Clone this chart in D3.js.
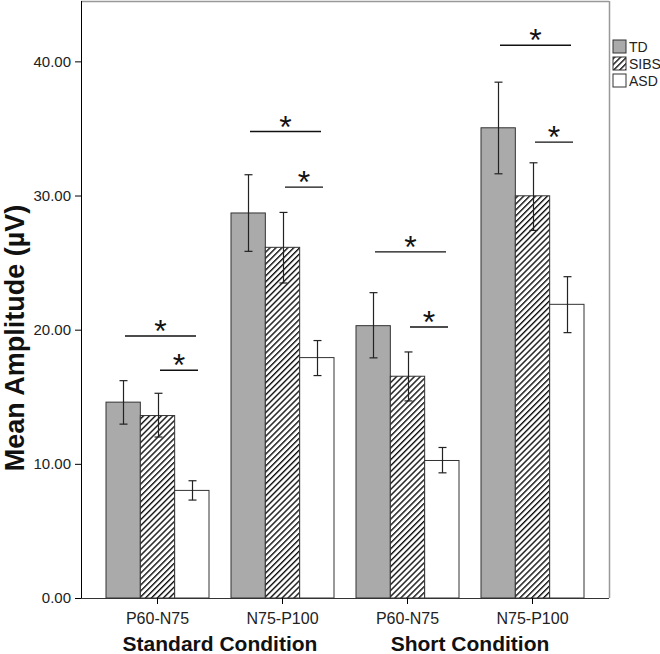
<!DOCTYPE html>
<html><head><meta charset="utf-8">
<script src="https://cdn.jsdelivr.net/npm/d3@7"></script>
<style>body{margin:0;background:#fff}svg{display:block}text{font-family:"Liberation Sans",Arial,sans-serif}</style>
</head><body><svg id="c" width="660" height="654"></svg>
<script>
const components = ["P60-N75","N75-P100","P60-N75","N75-P100"];
const conditions = ["Standard Condition","Short Condition"];
const series = ["TD","SIBS","ASD"];
const tdMean = [14.6, 28.7, 20.3, 35.05];
const tdHi   = [16.2, 31.55, 22.76, 38.45];
const tdLo   = [12.96, 25.84, 17.9, 31.62];
const sibsMean = [13.6, 26.14, 16.53, 29.98];
const sibsHi   = [15.26, 28.74, 18.34, 32.44];
const sibsLo   = [12.0, 23.48, 14.69, 27.4];
const asdMean = [8.02, 17.92, 10.25, 21.89];
const asdHi   = [8.74, 19.19, 11.22, 23.95];
const asdLo   = [7.3, 16.58, 9.33, 19.78];
const sigLong  = [19.53, 34.77, 25.8, 41.2];
const sigShort = [16.98, 30.63, 20.2, 33.98];
const yTicks = [0, 10, 20, 30, 40];

const svg = d3.select("#c");
const L = 81, R = 609, T = 1, B = 598;
const idx = d3.range(components.length);
const x = d3.scaleBand().domain(idx).range([L, R]).paddingInner(0.176).paddingOuter(0.2);
const xs = d3.scaleBand().domain(series).range([0, x.bandwidth()]);
const y = d3.scaleLinear().domain([0, 44.5]).range([B, T]);

const defs = svg.append("defs");
const pat = defs.append("pattern").attr("id","hatch").attr("patternUnits","userSpaceOnUse")
  .attr("width",4.2).attr("height",4.2).attr("patternTransform","rotate(45)");
pat.append("rect").attr("width",4.2).attr("height",4.2).attr("fill","#fff");
pat.append("line").attr("x1",0.7).attr("y1",0).attr("x2",0.7).attr("y2",4.2).attr("stroke","#111").attr("stroke-width",1.4);

const fills = {TD:"#aaaaaa", SIBS:"url(#hatch)", ASD:"#ffffff"};
const means = {TD:tdMean, SIBS:sibsMean, ASD:asdMean};
const his = {TD:tdHi, SIBS:sibsHi, ASD:asdHi};
const los = {TD:tdLo, SIBS:sibsLo, ASD:asdLo};

// frame
svg.append("line").attr("x1",L).attr("x2",R).attr("y1",T+0.5).attr("y2",T+0.5).attr("stroke","#999").attr("stroke-width",1.5);
svg.append("line").attr("x1",R+0.5).attr("x2",R+0.5).attr("y1",T).attr("y2",B).attr("stroke","#999").attr("stroke-width",1.5);

// bars
const rows = [];
idx.forEach(i => series.forEach(s => rows.push({i, s, v: means[s][i], hi: his[s][i], lo: los[s][i]})));
svg.append("g").selectAll("rect").data(rows).join("rect")
  .attr("x", d => x(d.i) + xs(d.s))
  .attr("y", d => y(d.v))
  .attr("width", xs.bandwidth())
  .attr("height", d => y(0) - y(d.v))
  .attr("fill", d => fills[d.s])
  .attr("stroke", "#333").attr("stroke-width", 1);

// error bars
const eg = svg.append("g").attr("stroke","#222").attr("stroke-width",1.2);
rows.forEach(d => {
  const cx = Math.round(x(d.i) + xs(d.s) + xs.bandwidth()/2) + 0.5;
  eg.append("line").attr("x1",cx).attr("x2",cx).attr("y1",y(d.hi)).attr("y2",y(d.lo));
  eg.append("line").attr("x1",cx-4).attr("x2",cx+4).attr("y1",y(d.hi)).attr("y2",y(d.hi));
  eg.append("line").attr("x1",cx-4).attr("x2",cx+4).attr("y1",y(d.lo)).attr("y2",y(d.lo));
});

// significance
const sg = svg.append("g");
idx.forEach(i => {
  const b = x(i);
  [[sigLong[i], b+19, b+90],[sigShort[i], b+54, b+92]].forEach(([v,x1,x2]) => {
    sg.append("line").attr("x1",x1).attr("x2",x2).attr("y1",y(v)).attr("y2",y(v)).attr("stroke","#111").attr("stroke-width",1.4);
    sg.append("text").attr("x",(x1+x2)/2).attr("y",y(v)+6).attr("text-anchor","middle")
      .attr("font-size",32).attr("fill","#111").text("*");
  });
});

// axes
const ya = svg.append("g").attr("transform",`translate(${L},0)`)
  .call(d3.axisLeft(y).tickValues(yTicks).tickFormat(d3.format(".2f")).tickSize(6).tickPadding(4));
ya.select(".domain").attr("stroke","#000").attr("d",`M0.5,${T}V${B}`);
ya.selectAll("text").attr("font-size",15).attr("fill","#222").attr("font-family","Liberation Sans, Arial, sans-serif");
const xa = svg.append("g").attr("transform",`translate(0,${B})`)
  .call(d3.axisBottom(x).tickFormat(i => components[i]).tickSize(6).tickPadding(9));
xa.select(".domain").attr("stroke","#333").attr("d",`M${L},0.5H${R}`);
xa.selectAll("text").attr("font-size",16).attr("fill","#222").attr("font-family","Liberation Sans, Arial, sans-serif");

// condition labels
conditions.forEach((c, k) => {
  const cx = (x(2*k) + x(2*k+1) + x.bandwidth())/2;
  svg.append("text").attr("x",cx).attr("y",651).attr("text-anchor","middle")
    .attr("font-size",21).attr("font-weight","bold").attr("fill","#111").text(c);
});

// y title
svg.append("text").attr("transform","translate(24,338) rotate(-90)").attr("text-anchor","middle")
  .attr("font-size",27).attr("font-weight","bold").attr("fill","#111").text("Mean Amplitude (µV)");

// legend
const lg = svg.append("g").attr("transform","translate(613,40)");
series.forEach((s,k) => {
  lg.append("rect").attr("x",0).attr("y",k*17).attr("width",13).attr("height",13)
    .attr("fill",fills[s]).attr("stroke","#333").attr("stroke-width",1);
  lg.append("text").attr("x",16).attr("y",k*17+11.5).attr("font-size",14).attr("fill","#222").text(s);
});
</script></body></html>
